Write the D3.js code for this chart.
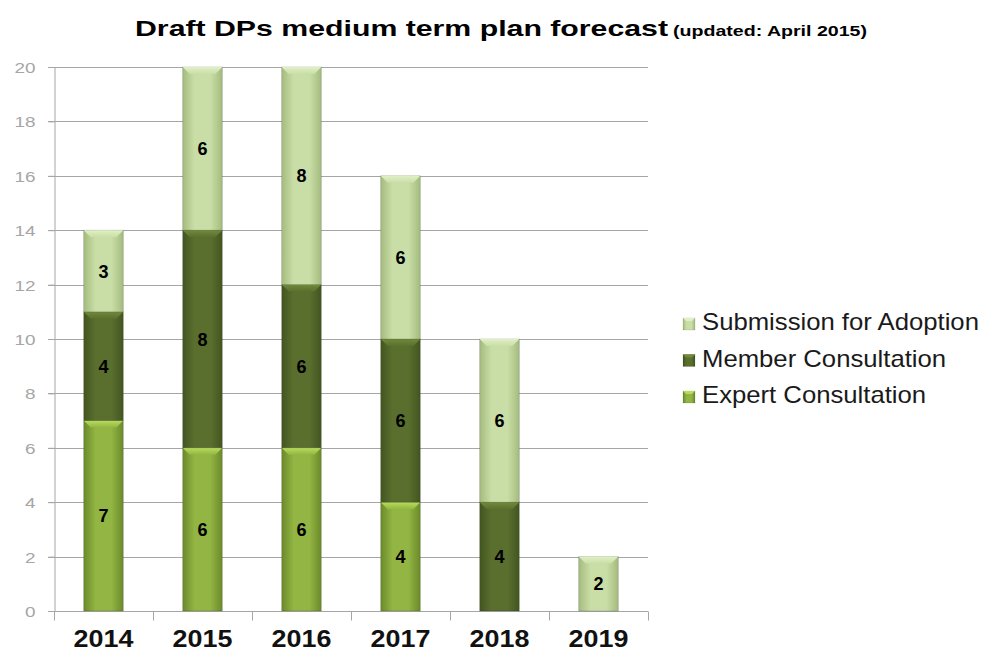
<!DOCTYPE html>
<html>
<head>
<meta charset="utf-8">
<script src="https://cdn.jsdelivr.net/npm/d3@7"></script>
<style>
html,body{margin:0;padding:0;background:#fff;}
svg{display:block;font-family:"Liberation Sans",Arial,sans-serif;}
</style>
</head>
<body>
<svg id="chart" width="983" height="651"></svg>
<script>
const years = ["2014","2015","2016","2017","2018","2019"];
const seriesNames = ["Expert Consultation","Member Consultation","Submission for Adoption"];
const expert = [7,6,6,4,0,0];
const member = [4,8,6,6,4,0];
const submission = [3,6,8,6,6,2];
const yTicks = [0,2,4,6,8,10,12,14,16,18,20];

const svg = d3.select("#chart");
const x = d3.scaleBand().domain(years).range([54,648]).paddingInner(0.6).paddingOuter(0.3);
const y = d3.scaleLinear().domain([0,20]).range([611,67]);

function stretch(sel, f){
  sel.each(function(){
    const L = this.getComputedTextLength();
    d3.select(this).attr("textLength", L*f).attr("lengthAdjust","spacingAndGlyphs");
  });
}

const palettes = [
  {edge:"#6a8a2a", mid:"#93b543", bevel:"#b8dc5c"},
  {edge:"#435520", mid:"#5a6f2e", bevel:"#71893c"},
  {edge:"#a4bb7e", mid:"#c9dea6", bevel:"#e0f0c6"}
];
const defs = svg.append("defs");
palettes.forEach((p,i)=>{
  const g = defs.append("linearGradient").attr("id","g"+i).attr("x1","0").attr("x2","1").attr("y1","0").attr("y2","0");
  g.append("stop").attr("offset","0%").attr("stop-color",p.edge);
  g.append("stop").attr("offset","30%").attr("stop-color",p.mid);
  g.append("stop").attr("offset","70%").attr("stop-color",p.mid);
  g.append("stop").attr("offset","100%").attr("stop-color",p.edge);
  const b = defs.append("linearGradient").attr("id","b"+i).attr("x1","0").attr("x2","0").attr("y1","0").attr("y2","1");
  b.append("stop").attr("offset","0%").attr("stop-color",p.bevel);
  b.append("stop").attr("offset","100%").attr("stop-color",p.mid);
});

// gridlines
svg.append("g").selectAll("line").data(yTicks.filter(d=>d>0)).join("line")
  .attr("x1",48).attr("x2",648).attr("y1",d=>Math.round(y(d))+0.5).attr("y2",d=>Math.round(y(d))+0.5)
  .attr("stroke","#a6a6a6").attr("stroke-width",1);

// y axis
const yAxis = d3.axisLeft(y).tickValues(yTicks).tickSize(6).tickPadding(0);
const yg = svg.append("g").attr("transform","translate(54.5,0)").call(yAxis);
yg.select(".domain").attr("stroke","#a6a6a6");
yg.selectAll(".tick line").attr("stroke","#a6a6a6");
const ytxt = yg.selectAll(".tick text").attr("fill","#a6a6a6").attr("font-size","15.5px")
  .attr("font-family","Liberation Sans, Arial, sans-serif").attr("x",-19).attr("dy","0.35em");
stretch(ytxt, 1.22);

// x axis
const xg = svg.append("g").attr("transform","translate(0,611.5)");
xg.append("line").attr("x1",48).attr("x2",648).attr("stroke","#a6a6a6");
const bounds = d3.range(years.length+1).map(i=>54+i*x.step());
xg.selectAll("line.tk").data(bounds).join("line").attr("class","tk")
  .attr("x1",d=>Math.round(d)+0.5).attr("x2",d=>Math.round(d)+0.5).attr("y1",0).attr("y2",9).attr("stroke","#a6a6a6");
const xtxt = xg.selectAll("text").data(years).join("text")
  .attr("x",d=>x(d)+x.bandwidth()/2).attr("y",35.5).attr("text-anchor","middle")
  .attr("font-size","24px").attr("font-weight","bold").attr("fill","#111").text(d=>d);
stretch(xtxt, 1.12);

// stacked data
const table = years.map((yr,i)=>({year:yr, expert:expert[i], member:member[i], submission:submission[i]}));
const stack = d3.stack().keys(["expert","member","submission"]);
const stacked = stack(table);

stacked.forEach((layer,li)=>{
  const g = svg.append("g");
  layer.forEach(d=>{
    const v = d[1]-d[0];
    if(v<=0) return;
    const x0 = x(d.data.year), w = x.bandwidth();
    const yt = y(d[1]), yb = y(d[0]);
    g.append("rect").attr("x",x0).attr("y",yt).attr("width",w).attr("height",yb-yt)
      .attr("fill","url(#g"+li+")").attr("stroke","rgba(0,0,0,0.2)").attr("stroke-width",0.8);
    const bv = 7;
    g.append("path")
      .attr("d",`M${x0},${yt}L${x0+w},${yt}L${x0+w-bv},${yt+bv}L${x0+bv},${yt+bv}Z`)
      .attr("fill","url(#b"+li+")");
    g.append("text").attr("x",x0+w/2).attr("y",(yt+yb)/2+6.5).attr("text-anchor","middle")
      .attr("font-size","18px").attr("font-weight","bold").attr("fill","#000").text(v);
  });
});

// title
svg.append("text").attr("x",135).attr("y",36).attr("fill","#000")
  .attr("font-size","22px").attr("font-weight","bold").text("Draft DPs medium term plan forecast")
  .attr("textLength",533).attr("lengthAdjust","spacingAndGlyphs");
svg.append("text").attr("x",673).attr("y",36).attr("fill","#000")
  .attr("font-size","14px").attr("font-weight","bold").text("(updated: April 2015)")
  .attr("textLength",194).attr("lengthAdjust","spacingAndGlyphs");

// legend
const legendOrder = [2,1,0];
const lg = svg.append("g");
legendOrder.forEach((si,k)=>{
  const base = 330 + k*36.5;
  lg.append("rect").attr("x",683).attr("y",base-12).attr("width",12).attr("height",12)
    .attr("fill","url(#g"+si+")").attr("stroke","rgba(0,0,0,0.2)").attr("stroke-width",0.5);
  lg.append("path").attr("d",`M683,${base-12}L695,${base-12}L692,${base-9}L686,${base-9}Z`).attr("fill",palettes[si].bevel);
  const tx = lg.append("text").attr("x",702).attr("y",base).attr("font-size","24px").attr("fill","#1a1a1a").text(seriesNames[si]);
  stretch(tx, 1.07);
});
</script>
</body>
</html>
